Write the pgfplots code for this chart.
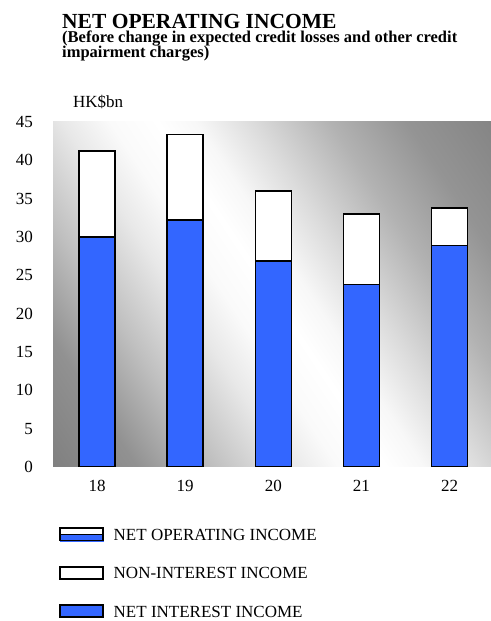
\documentclass[border=0pt]{standalone}
\usepackage{fontspec}
\setmainfont{Liberation Serif}
\usepackage{pgfplots}
\usepackage{pgfplotstable}
\pgfplotsset{compat=1.18}
\definecolor{barblue}{HTML}{3366FF}
\pgfdeclarehorizontalshading{bgshade}{100bp}{color(0bp)=(black!50); color(15bp)=(black!50); color(24bp)=(black!43); color(32bp)=(black!25); color(40bp)=(black!9); color(45bp)=(black!2); color(50bp)=(white); color(54bp)=(black!3); color(60bp)=(black!14); color(68bp)=(black!30); color(76bp)=(black!42); color(85bp)=(black!48); color(100bp)=(black!48)}

\pgfplotstableread{
x ni nonint
0 30.0 11.2
1 32.2 11.2
2 26.9 9.1
3 23.8 9.2
4 28.9 4.9
}\datatable

\begin{document}
\begin{tikzpicture}[x=1bp,y=1bp]
\useasboundingbox (0,0) rectangle (491,621);
\node[anchor=base west, inner sep=0pt, font=\bfseries\fontsize{21.5bp}{24bp}\selectfont] at (62,592) {NET OPERATING INCOME};
\node[anchor=base west, inner sep=0pt, font=\bfseries\fontsize{16.5bp}{18bp}\selectfont] at (62,578) {(Before change in expected credit losses and other credit};
\node[anchor=base west, inner sep=0pt, font=\bfseries\fontsize{16.5bp}{18bp}\selectfont] at (62,563) {impairment charges)};
\node[anchor=base west, inner sep=0pt, font=\fontsize{17bp}{20bp}\selectfont] at (73,513.7) {HK\$bn};
\begin{axis}[
  at={(53bp,154bp)}, anchor=south west,
  scale only axis, width=438bp, height=345bp,
  ybar stacked, bar width=36bp,
  xmin=-0.5, xmax=4.47, ymin=0, ymax=45,
  xtick={0,1,2,3,4}, xticklabels={18,19,20,21,22},
  ytick={0,5,...,45},
  axis line style={draw=none},
  major tick length=0pt,
  /pgf/number format/assume math mode=true,
  ticklabel style={font=\fontsize{17bp}{18bp}\selectfont},
  yticklabel style={xshift=-16.5bp},
  xticklabel style={yshift=-9.5bp},
  axis background/.style={shade, shading=bgshade, shading angle=33.5},
  legend style={draw=none, fill=none, inner sep=0pt, nodes={inner sep=0pt}, cells={anchor=base west}, column sep=10bp, at={(0.0137,-0.174)}, anchor=north west, row sep=24bp, font=\fontsize{17bp}{20bp}\selectfont},
]
\addplot[forget plot, fill=barblue, draw=black, line width=1.5bp] table[x=x, y=ni] {\datatable};
\addplot[forget plot, fill=white, draw=black, line width=1.5bp] table[x=x, y=nonint] {\datatable};
\addlegendimage{legend image code/.code={
  \fill[barblue] (0bp,0bp) rectangle (43bp,6bp);
  \draw[black, line width=1.5bp] (0bp,6bp) -- (43bp,6bp);
  \draw[black, line width=1.5bp] (0bp,0bp) rectangle (43bp,12.75bp);}}
\addlegendentry{NET OPERATING INCOME}
\addlegendimage{legend image code/.code={\draw[black, line width=1.5bp, fill=white] (0bp,0bp) rectangle (43bp,12bp);}}
\addlegendentry{NON-INTEREST INCOME}
\addlegendimage{legend image code/.code={\draw[black, line width=1.5bp, fill=barblue] (0bp,0bp) rectangle (43bp,12bp);}}
\addlegendentry{NET INTEREST INCOME}
\end{axis}
\end{tikzpicture}
\end{document}
